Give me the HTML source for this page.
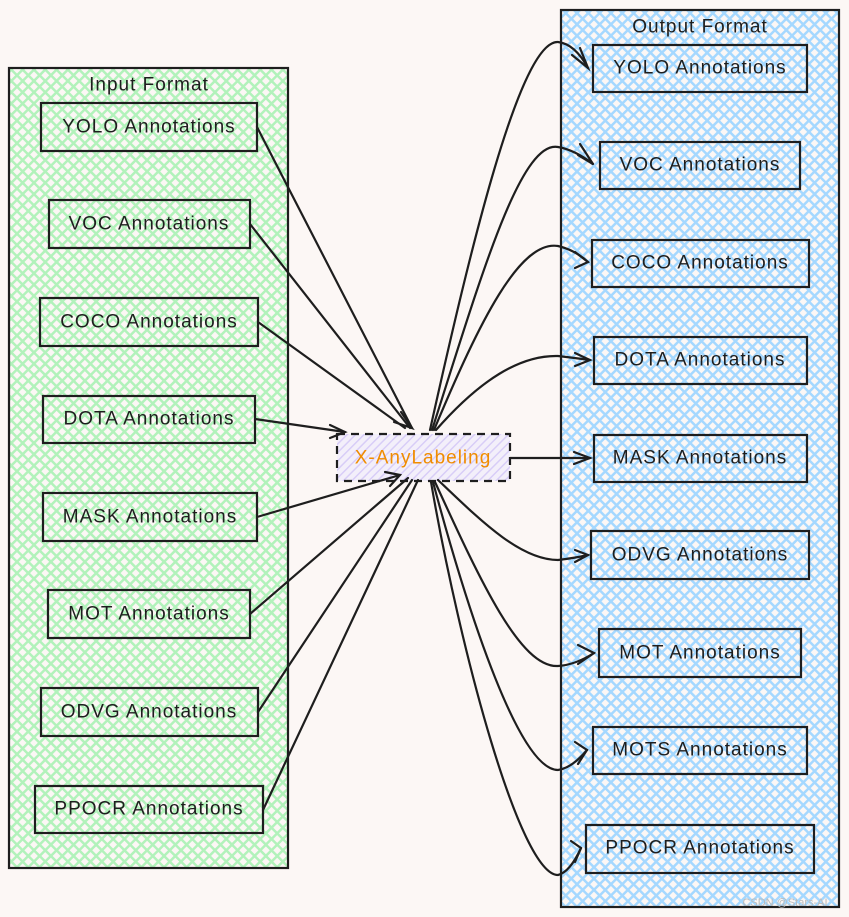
<!DOCTYPE html>
<html><head><meta charset="utf-8"><style>
html,body{margin:0;padding:0;background:#fcf7f5;}
svg{display:block}
text{font-family:"Liberation Sans",sans-serif;font-size:19px;letter-spacing:1px;fill:#1e1e1e;text-anchor:middle;dominant-baseline:central}
</style></head><body>
<svg width="849" height="917" viewBox="0 0 849 917" xmlns="http://www.w3.org/2000/svg">
<defs>
<pattern id="g" width="8" height="8" patternUnits="userSpaceOnUse" patternTransform="rotate(45)">
<rect width="8" height="8" fill="#fcf7f5"/><rect width="8" height="2.5" fill="#b2f2bb"/><rect width="2.5" height="8" fill="#b2f2bb"/></pattern>
<pattern id="b" width="8" height="8" patternUnits="userSpaceOnUse" patternTransform="rotate(45)">
<rect width="8" height="8" fill="#fcf7f5"/><rect width="8" height="2.5" fill="#a5d8ff"/><rect width="2.5" height="8" fill="#a5d8ff"/></pattern>
<pattern id="p" width="6" height="6" patternUnits="userSpaceOnUse" patternTransform="rotate(-45)">
<rect width="6" height="6" fill="#f3effa"/><rect width="6" height="1.5" fill="#d8cdf7"/></pattern>
</defs>
<g stroke="#1e1e1e" stroke-width="2.2">
<rect x="9" y="68" width="279" height="800" fill="url(#g)"/>
<rect x="561" y="10" width="278" height="897" fill="url(#b)"/>
<rect x="41" y="103" width="216" height="48" fill="url(#g)"/>
<rect x="49" y="200" width="201" height="48" fill="url(#g)"/>
<rect x="40" y="298" width="218" height="48" fill="url(#g)"/>
<rect x="43" y="396" width="212" height="47" fill="url(#g)"/>
<rect x="43" y="493" width="214" height="48" fill="url(#g)"/>
<rect x="48" y="590" width="202" height="48" fill="url(#g)"/>
<rect x="41" y="688" width="217" height="48" fill="url(#g)"/>
<rect x="35" y="786" width="228" height="47" fill="url(#g)"/>
<rect x="593" y="45" width="214" height="47" fill="url(#b)"/>
<rect x="600" y="142" width="200" height="47" fill="url(#b)"/>
<rect x="592" y="240" width="217" height="47" fill="url(#b)"/>
<rect x="594" y="337" width="213" height="47" fill="url(#b)"/>
<rect x="594" y="435" width="213" height="47" fill="url(#b)"/>
<rect x="591" y="531" width="218" height="48" fill="url(#b)"/>
<rect x="599" y="629" width="202" height="48" fill="url(#b)"/>
<rect x="593" y="727" width="214" height="47" fill="url(#b)"/>
<rect x="586" y="825" width="228" height="48" fill="url(#b)"/>
<rect x="337" y="434" width="173" height="47" fill="url(#p)" stroke-dasharray="8 6"/>
</g>
<g stroke="#1e1e1e" stroke-width="2.2" fill="none" stroke-linecap="round">
<path d="M257 127 L412 428"/><path d="M250 224 L410 428"/><path d="M258 322 L405 428"/>
<path d="M255 419 L345 432"/><path d="M257 517 L400 475"/><path d="M250 614 L408 478"/>
<path d="M258 712 L412 480"/><path d="M263 810 L418 480"/>
<path d="M401 412 L412 428 L394 422"/><path d="M330 425 L345 432 L330 438"/><path d="M385 472 L400 475 L390 486"/>
<path d="M510 458 L590 458"/><path d="M574 452 L590 458 L574 464"/>
<path d="M430 430 C470 250 520 40 558 42 Q575 44 588 68"/>
<path d="M432 430 C480 280 520 140 558 147 Q575 150 593 164"/>
<path d="M434 430 C480 320 520 240 558 246 Q575 250 588 262"/>
<path d="M436 430 C480 380 520 355 558 356 Q575 358 590 360"/>
<path d="M438 480 C480 520 520 560 558 560 Q575 558 588 555"/>
<path d="M435 482 C480 580 520 668 558 666 Q575 665 594 653"/>
<path d="M433 482 C470 620 520 770 558 770 Q572 768 587 750"/>
<path d="M431 482 C460 650 520 875 558 875 Q570 872 581 848"/>
<path d="M572 55 L588 68 L580 48"/><path d="M578 155 L593 164 L580 144"/><path d="M575 252 L588 262 L575 268"/>
<path d="M575 353 L590 360 L575 366"/><path d="M575 550 L588 555 L575 562"/><path d="M578 645 L594 653 L578 664"/>
<path d="M575 742 L587 750 L578 764"/><path d="M571 841 L581 848 L575 862"/>
</g>
<text x="149" y="85">Input Format</text>
<text x="700" y="27">Output Format</text>
<text x="149" y="127">YOLO Annotations</text>
<text x="149" y="224">VOC Annotations</text>
<text x="149" y="322">COCO Annotations</text>
<text x="149" y="419">DOTA Annotations</text>
<text x="150" y="517">MASK Annotations</text>
<text x="149" y="614">MOT Annotations</text>
<text x="149" y="712">ODVG Annotations</text>
<text x="149" y="809">PPOCR Annotations</text>
<text x="423" y="458" style="fill:#f08c00">X-AnyLabeling</text>
<text x="700" y="68">YOLO Annotations</text>
<text x="700" y="165">VOC Annotations</text>
<text x="700" y="263">COCO Annotations</text>
<text x="700" y="360">DOTA Annotations</text>
<text x="700" y="458">MASK Annotations</text>
<text x="700" y="555">ODVG Annotations</text>
<text x="700" y="653">MOT Annotations</text>
<text x="700" y="750">MOTS Annotations</text>
<text x="700" y="848">PPOCR Annotations</text>
<text x="785" y="903" style="font-size:11px;letter-spacing:0;fill:#bbb">CSDN @Stars-AI</text>
</svg>
</body></html>
